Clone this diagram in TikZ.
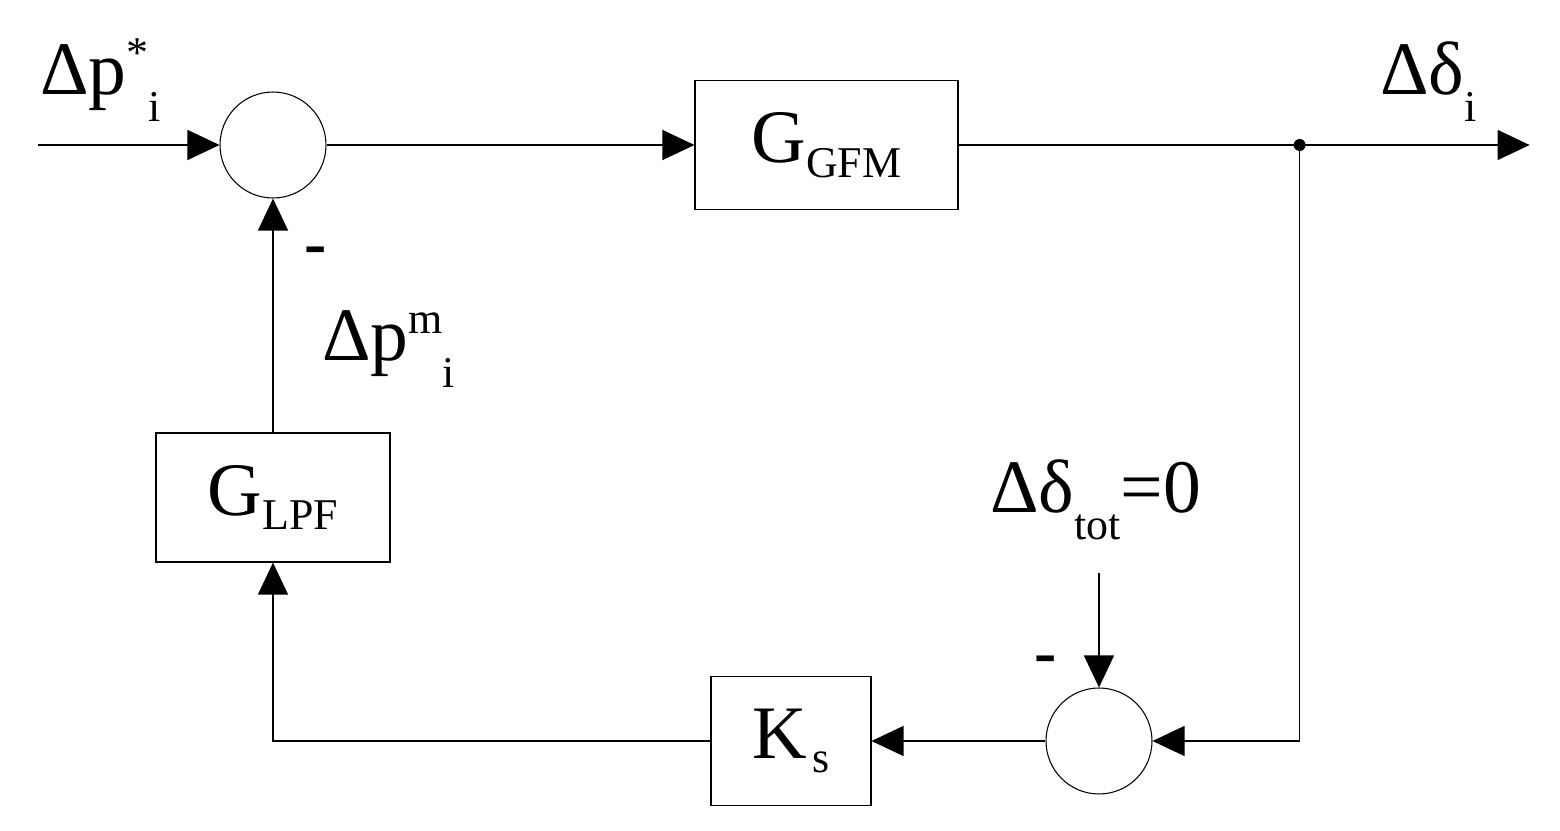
\documentclass[tikz,border=0pt]{standalone}
\usepackage{fontspec}
\setmainfont{Liberation Serif}
\usetikzlibrary{positioning, arrows.meta}
\newcommand{\bigtxt}{\fontsize{43}{48}\selectfont}
\newcommand{\subtxt}{\fontsize{25}{30}\selectfont}
\newcommand{\up}[1]{\raisebox{15.4pt}{\subtxt #1}}
\newcommand{\dn}[1]{\raisebox{-14.8pt}{\subtxt #1}}
\newcommand{\bdn}[1]{\raisebox{-8.5pt}{\subtxt #1}}
\tikzset{
    block/.style={
        draw, line width=0.75pt,
        minimum height = 2.58cm,
        inner sep = 0pt,
        font = \bigtxt
    },
    sum/.style = {draw, circle, line width=0.6pt, minimum size=2.12cm, inner sep=0pt},
    lbl/.style = {font=\bigtxt, inner sep=0pt, anchor=base west},
    minus/.style = {font=\fontsize{38}{40}\selectfont\bfseries, inner sep=0pt, anchor=base},
    line/.style = {line width=0.75pt, -{Triangle[length=0.64cm, width=0.6cm]}}
}
\begin{document}
\begin{tikzpicture}[x=0.02cm, y=-0.02cm]
    \useasboundingbox (0,0) rectangle (1560,831);

    % Blocks
    \node[sum] (sum1) at (273,145) {};
    \node[block, minimum width=5.26cm, right = 7.36cm of sum1] (gfm) {G\bdn{GFM}};
    \coordinate[right = 6.82cm of gfm.east] (split);
    \coordinate[right = 4.6cm of split] (out);
    \coordinate[left = 3.64cm of sum1] (in);

    \node[sum] (sum2) at (1099,741) {};
    \node[block, minimum width=3.2cm, minimum height=2.58cm, left = 3.48cm of sum2] (ks) {K\kern3pt\bdn{s}};
    \node[block, minimum width=4.68cm] (lpf) at (273,497.5) {G\bdn{LPF}};
    \coordinate[above = 2.3cm of sum2] (tottop);

    % Labels
    \node[lbl] (pref) at (40,95) {Δp\up{*}\dn{i}};
    \node[lbl] (dout) at (1380,95) {Δδ\dn{i}};
    \node[lbl] (pmeas) at (322,361) {Δp\up{m}\dn{i}};
    \node[lbl] (dtot) at (990,513) {Δδ\dn{tot}=0};
    \node[minus] (minus1) at (316,266) {-};
    \node[minus] (minus2) at (1046,674) {-};

    % Lines
    \draw[line] (in) -- (sum1.west);
    \draw[line] (sum1.east) -- (gfm.west);
    \draw[line] (gfm.east) -- (out);
    \fill (split) circle[radius=0.12cm];
    \draw[line] (split) |- (sum2.east);
    \draw[line] (tottop) -- (sum2.north);
    \draw[line] (sum2.west) -- (ks.east);
    \draw[line] (ks.west) -| (lpf.south);
    \draw[line] (lpf.north) -- (sum1.south);

\end{tikzpicture}
\end{document}
